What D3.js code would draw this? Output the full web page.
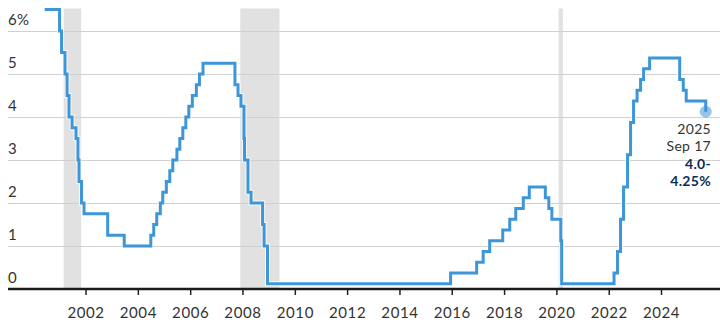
<!DOCTYPE html>
<html>
<head>
<meta charset="utf-8">
<script src="https://cdn.jsdelivr.net/npm/d3@7"></script>
<style>
  body { margin: 0; background: #fff; }
  svg { display: block; font-family: Lato, 'Open Sans', sans-serif; }
</style>
</head>
<body>
<script>
// fed funds target (midpoint of range after 2008), change dates
const changeDates = [
  '2000-06-10', '2001-01-03', '2001-01-31', '2001-03-20', '2001-04-18', '2001-05-15',
  '2001-06-27', '2001-08-21', '2001-09-17', '2001-10-02', '2001-11-06', '2001-12-11',
  '2002-11-06', '2003-06-25', '2004-06-30', '2004-08-10', '2004-09-21', '2004-11-10',
  '2004-12-14', '2005-02-02', '2005-03-22', '2005-05-03', '2005-06-30', '2005-08-09',
  '2005-09-20', '2005-11-01', '2005-12-13', '2006-01-31', '2006-03-28', '2006-05-10',
  '2006-06-29', '2007-09-18', '2007-10-31', '2007-12-11', '2008-01-22', '2008-01-30',
  '2008-03-18', '2008-04-30', '2008-10-08', '2008-10-29', '2008-12-16', '2015-12-16',
  '2016-12-14', '2017-03-15', '2017-06-14', '2017-12-13', '2018-03-21', '2018-06-13',
  '2018-09-26', '2018-12-19', '2019-07-31', '2019-09-18', '2019-10-30', '2020-03-03',
  '2020-03-15', '2022-03-16', '2022-05-04', '2022-06-15', '2022-07-27', '2022-09-21',
  '2022-11-02', '2022-12-14', '2023-02-01', '2023-03-22', '2023-05-03', '2023-07-26',
  '2024-09-18', '2024-11-07', '2024-12-18', '2025-09-17'
]
const rates = [
  6.5, 6.0, 5.5, 5.0, 4.5, 4.0,
  3.75, 3.5, 3.0, 2.5, 2.0, 1.75,
  1.25, 1.0, 1.25, 1.5, 1.75, 2.0,
  2.25, 2.5, 2.75, 3.0, 3.25, 3.5,
  3.75, 4.0, 4.25, 4.5, 4.75, 5.0,
  5.25, 4.75, 4.5, 4.25, 3.5, 3.0,
  2.25, 2.0, 1.5, 1.0, 0.125, 0.375,
  0.625, 0.875, 1.125, 1.375, 1.625, 1.875,
  2.125, 2.375, 2.125, 1.875, 1.625, 1.125,
  0.125, 0.375, 0.875, 1.625, 2.375, 3.125,
  3.875, 4.375, 4.625, 4.875, 5.125, 5.375,
  4.875, 4.625, 4.375, 4.125
]
const recessionStarts = ['2001-03-01', '2007-12-01', '2020-02-01']
const recessionEnds = ['2001-11-01', '2009-06-01', '2020-04-01']
const yTicks = [0, 1, 2, 3, 4, 5, 6]
const xTickYears = [2002, 2004, 2006, 2008, 2010, 2012, 2014, 2016, 2018, 2020, 2022, 2024]
const noteLines = ['2025', 'Sep 17', '4.0-', '4.25%']

const width = 720
const height = 332

const lineBlue = '#3d96d8'
const gridGray = '#d0d0d0'
const recessionGray = '#e1e1e1'
const textGray = '#333333'
const navy = '#0b2e59'

const parse = d3.timeParse('%Y-%m-%d')
const data = changeDates.map((d, i) => ({ date: parse(d), rate: rates[i] }))

const svg = d3.select('body').append('svg')
  .attr('width', width)
  .attr('height', height)

const x = d3.scaleTime()
  .domain([new Date(2000, 0, 1), new Date(2024, 0, 1)])
  .range([33.2, 661])

const y = d3.scaleLinear()
  .domain([0, 6])
  .range([289, 31])

// recession bands
svg.append('g')
  .selectAll('rect')
  .data(recessionStarts)
  .join('rect')
  .attr('x', (d, i) => x(parse(d)))
  .attr('width', (d, i) => Math.max(3.5, x(parse(recessionEnds[i])) - x(parse(d))))
  .attr('y', y(6.5) - 1)
  .attr('height', y(0) - y(6.5) + 1)
  .style('fill', recessionGray)

// grid + y labels
const yAxis = d3.axisLeft(y)
  .tickValues(yTicks.filter(d => d > 0))
  .tickSize(-(width - 8))
  .tickFormat('')
svg.append('g')
  .attr('transform', 'translate(8,0)')
  .call(yAxis)
  .call(g => g.select('.domain').remove())
  .call(g => g.selectAll('.tick line').attr('stroke', gridGray))

svg.append('g')
  .selectAll('text')
  .data(yTicks)
  .join('text')
  .attr('x', 8)
  .attr('y', d => y(d) - 6)
  .style('font-size', '15px')
  .style('letter-spacing', '0.3px')
  .style('fill', textGray)
  .text(d => d === 6 ? '6%' : d)

// x axis
const xAxis = d3.axisBottom(x)
  .tickValues(xTickYears.map(d => new Date(d, 0, 1)))
  .tickSize(6)
  .tickPadding(12)
  .tickFormat(d3.timeFormat('%Y'))
svg.append('g')
  .attr('transform', `translate(0,${y(0)})`)
  .call(xAxis)
  .call(g => g.select('.domain').remove())
  .call(g => g.selectAll('.tick line').attr('stroke', '#222').attr('stroke-width', 1.5))
  .call(g => g.selectAll('.tick text')
    .style('font-size', '15px')
    .style('letter-spacing', '0.6px')
    .style('font-family', 'Lato, sans-serif')
    .style('fill', textGray))

svg.append('line')
  .attr('x1', 8)
  .attr('x2', width)
  .attr('y1', y(0))
  .attr('y2', y(0))
  .attr('stroke', '#1a1a1a')
  .attr('stroke-width', 2.5)

// rate line
const line = d3.line()
  .x(d => x(d.date))
  .y(d => y(d.rate))
  .curve(d3.curveStepAfter)

svg.append('path')
  .datum(data)
  .attr('d', line)
  .attr('fill', 'none')
  .attr('stroke', '#fff')
  .attr('stroke-width', 5)
  .attr('stroke-opacity', 0.8)

svg.append('path')
  .datum(data)
  .attr('d', line)
  .attr('fill', 'none')
  .attr('stroke', lineBlue)
  .attr('stroke-width', 3)

const last = data[data.length - 1]
svg.append('circle')
  .attr('cx', x(last.date))
  .attr('cy', y(last.rate))
  .attr('r', 6)
  .style('fill', lineBlue)
  .style('fill-opacity', 0.55)

// annotation
svg.append('g')
  .selectAll('text')
  .data(noteLines)
  .join('text')
  .attr('x', 711)
  .attr('y', (d, i) => 134 + i * 17.3)
  .attr('text-anchor', 'end')
  .style('font-size', '14px')
  .style('letter-spacing', '0.3px')
  .style('font-weight', (d, i) => i > 1 ? 700 : 400)
  .style('fill', (d, i) => i > 1 ? navy : textGray)
  .text(d => d)
</script>
</body>
</html>
